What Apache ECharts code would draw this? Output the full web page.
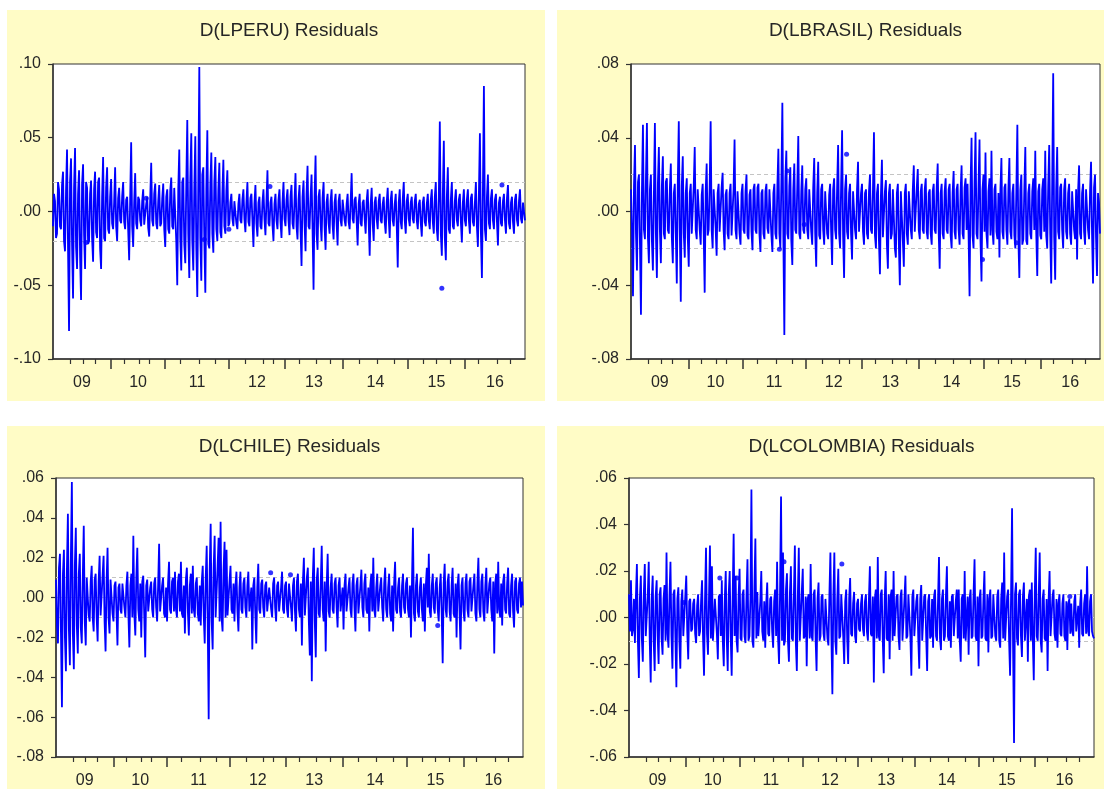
<!DOCTYPE html>
<html>
<head>
<meta charset="utf-8">
<title>Residuals</title>
<script src="https://cdn.jsdelivr.net/npm/echarts@6.0.0/dist/echarts.min.js"></script>
<style>
  html, body { margin: 0; padding: 0; background: #ffffff; }
  #chart { width: 1104px; height: 789px; }
</style>
</head>
<body>
<div id="chart"></div>
<script>
// Observation axis: 472 plotted observations, 2009 to 2016.
const yearLabels = ['09', '10', '11', '12', '13', '14', '15', '16'];
// Year boundaries and quarter boundaries, in observation numbers
const yearTicks = [57.9, 111.8, 175.6, 231.5, 289.4, 354.2, 411.1];
const quarterTicks = [
  17.0, 30.0, 41.9,
  70.8, 85.8, 95.8,
  126.7, 145.7, 161.6,
  191.6, 209.5, 219.5,
  245.5, 262.4, 276.4,
  305.3, 323.3, 340.3,
  369.2, 382.2, 396.2,
  424.1, 443.1, 456.0
];

// D(LPERU) residuals, one row per year
const peru = [
  -.01, .012, .007, -.018, -.015, .02, .015, -.01, -.012, .018, .027, -.02, -.027, .014, .042, -.025, -.081, .02, .036, -.022, -.059, .016, .043, -.024, -.039, .012, .028, -.03, -.06, .018, .032, -.016, -.039, .02, .016, -.022, -.02, .012, .021, -.018, -.034, .015, .027, -.014, -.018, .02, .023, -.025, -.039, .01, .037, -.018, -.02, .016, .03, -.012, -.015, .01,
  .022, -.008, -.012, .006, .03, -.01, -.02, .009, .016, -.006, -.008, .01, .02, -.007, -.012, .008, .01, -.012, -.033, .008, .047, -.01, -.024, .006, .026, -.008, -.012, .01, .008, -.006, -.01, .007, .015, -.009, -.008, .005, .01, -.011, -.017, .009, .033, -.006, -.01, .012, .019, -.008, -.012, .007, .018, -.01, -.008, .009, .019, -.012,
  -.024, .01, .015, -.012, -.015, .014, .023, -.01, -.012, .016, .015, -.02, -.05, .015, .042, -.018, -.04, .02, .023, -.022, -.035, .018, .062, -.015, -.045, .022, .053, -.02, -.04, .016, .051, -.025, -.058, .02, .098, -.018, -.047, .025, .03, -.02, -.055, .015, .055, -.022, -.025, .018, .04, -.015, -.028, .02, .037, -.012, -.02, .015, .033, -.014, -.018, .012, .035, -.01, -.015, .014, .028, -.01,
  -.008, .006, .012, -.005, -.01, .007, .008, -.008, -.012, .005, .012, -.006, -.008, .008, .015, -.005, -.014, .006, .02, -.007, -.01, .009, .012, -.006, -.024, .005, .018, -.008, -.017, .006, .01, -.01, -.012, .006, .015, -.005, -.016, .007, .028, -.008, -.01, .006, .01, -.009, -.02, .005, .012, -.006, -.012, .008, .015, -.007, -.018, .006, .02, -.005,
  -.01, .008, .015, -.006, -.016, .01, .018, -.008, -.012, .007, .026, -.01, -.019, .008, .018, -.012, -.037, .01, .021, -.008, -.027, .012, .031, -.01, -.012, .009, .025, -.012, -.053, .01, .038, -.015, -.026, .01, .015, -.008, -.02, .009, .02, -.01, -.026, .006, .012, -.008, -.015, .007, .015, -.009, -.019, .006, .012, -.008, -.023, .007, .012, -.006, -.01, .008,
  .008, -.006, -.01, .005, .012, -.007, -.012, .006, .026, -.005, -.008, .008, .01, -.006, -.023, .005, .012, -.008, -.01, .006, .008, -.005, -.015, .007, .015, -.006, -.03, .005, .016, -.008, -.02, .006, .01, -.005, -.012, .007, .012, -.006, -.008, .005, .01, -.007, -.015, .006, .016, -.005, -.018, .008, .014, -.006, -.01, .005, .012, -.009, -.038, .006, .015, -.007, -.012, .008, .02, -.006, -.015, .007, .012, -.005,
  -.01, .006, .01, -.005, -.008, .007, .012, -.006, -.012, .005, .008, -.008, -.017, .006, .01, -.007, -.01, .005, .012, -.006, -.012, .008, .015, -.007, -.015, .01, .02, -.012, -.02, .01, .061, -.015, -.03, .012, .048, -.018, -.033, .01, .03, -.012, -.015, .008, .02, -.01, -.012, .007, .015, -.006, -.01, .008, .012, -.007, -.021, .006, .015, -.006,
  -.01, .008, .015, -.006, -.015, .009, .012, -.007, -.01, .006, .02, -.01, -.024, .012, .053, -.015, -.045, .014, .085, -.012, -.02, .01, .025, -.008, -.012, .009, .015, -.006, -.012, .008, .012, -.007, -.023, .006, .01, -.008, -.01, .007, .012, -.006, -.015, .009, .018, -.008, -.012, .006, .01, -.007, -.015, .008, .012, -.006, -.01, .007, .015, -.005, -.008, .006, .005, -.006
];
// isolated observations (observation number, residual)
const peruSingles = [[33, -.021], [93, .009], [151, -.019], [175.5, -.012], [216.5, .017], [388, -.052], [448, .018]];

// D(LBRASIL) residuals
const brasil = [
  .012, -.01, -.046, .014, .036, -.012, -.032, .016, .02, -.018, -.056, .012, .047, -.01, -.015, .018, .048, -.014, -.028, .012, .02, -.016, -.032, .01, .048, -.012, -.036, .015, .035, -.01, -.028, .014, .03, -.012, -.015, .016, .018, -.01, -.012, .012, .026, -.014, -.028, .01, .015, -.012, -.039, .016, .049, -.01, -.049, .014, .03, -.012, -.025, .01, .018, -.014,
  -.03, .01, .015, -.012, -.012, .014, .035, -.01, -.015, .012, .012, -.01, -.018, .009, .015, -.012, -.044, .011, .026, -.013, -.01, .014, .049, -.01, -.02, .012, .012, -.009, -.024, .01, .015, -.011, -.012, .013, .021, -.01, -.021, .009, .012, -.012, -.015, .01, .015, -.013, -.012, .012, .039, -.01, -.015, .011, .012, -.012, -.018, .01,
  .015, -.01, -.012, .011, .02, -.013, -.015, .009, .012, -.011, -.021, .012, .015, -.01, -.012, .013, .015, -.012, -.022, .01, .012, -.012, -.015, .011, .015, -.009, -.012, .012, .012, -.013, -.022, .01, .015, -.012, -.015, .014, .034, -.012, -.02, .016, .059, -.014, -.067, .018, .033, -.012, -.015, .014, .024, -.016, -.029, .012, .026, -.01, -.012, .014, .041, -.012, -.015, .011, .025, -.01, -.012, .012,
  .018, -.01, -.015, .012, .012, -.011, -.018, .013, .029, -.012, -.03, .01, .027, -.013, -.015, .012, .015, -.01, -.018, .011, .012, -.012, -.015, .009, .015, -.011, -.029, .012, .018, -.01, -.015, .013, .036, -.012, -.02, .014, .044, -.013, -.036, .012, .02, -.011, -.015, .01, .015, -.012, -.026, .011, .012, -.01, -.015, .012, .027, -.011, -.012, .01,
  .015, -.011, -.018, .01, .012, -.012, -.015, .011, .02, -.01, -.012, .012, .043, -.013, -.02, .01, .015, -.016, -.034, .009, .028, -.014, -.015, .011, .017, -.018, -.031, .01, .015, -.015, -.012, .012, .012, -.02, -.025, .01, .015, -.018, -.04, .011, .012, -.016, -.03, .01, .015, -.012, -.018, .011, .012, -.01, -.015, .012, .025, -.011, -.012, .013, .023, -.01,
  -.015, .011, .015, -.01, -.012, .012, .018, -.011, -.015, .01, .012, -.012, -.018, .011, .015, -.01, -.012, .013, .026, -.011, -.031, .01, .015, -.012, -.015, .011, .018, -.01, -.012, .012, .015, -.013, -.02, .01, .022, -.011, -.015, .012, .015, -.01, -.018, .011, .025, -.012, -.015, .013, .018, -.01, .015, -.012, -.046, .014, .04, -.013, -.02, .016, .043, -.012, -.015, .014, .039, -.016, -.038, .012, .02, -.011,
  .032, -.012, -.02, .011, .018, -.013, .033, -.01, -.018, .012, .015, -.011, -.015, .01, -.025, .012, .029, -.011, -.015, .013, .015, -.01, -.018, .012, .029, -.011, -.015, .01, .015, -.013, -.02, .012, .047, -.014, -.036, .012, .02, -.018, -.015, .012, .035, -.016, -.018, .01, .015, -.012, -.015, .011, .018, -.01, .033, -.012, -.035, .011, .015, -.013,
  -.015, .012, .018, -.011, .033, -.013, -.02, .014, .036, -.012, -.039, .016, .075, -.014, -.037, .012, .035, -.011, -.015, .013, .015, -.01, -.02, .012, .018, -.011, -.015, .01, .015, -.012, -.018, .011, .012, -.01, -.015, .012, -.026, .011, .025, -.012, -.015, .01, .015, -.011, -.018, .012, .012, -.01, -.015, .011, .027, -.012, -.039, .013, .02, -.014, -.035, .01, .005, -.012
];
const brasilSingles = [[149, -.0205], [157, .022], [174, -.007], [216.5, .031], [353, -.026], [387, -.017]];

// D(LCHILE) residuals
const chile = [
  .009, -.014, -.023, .015, .022, -.018, -.055, .012, .024, -.02, -.037, .014, .042, -.016, -.034, .02, .058, -.018, -.036, .016, .035, -.014, -.028, .012, .022, -.015, -.023, .01, .036, -.012, -.024, .01, .011, -.009, -.012, .008, .016, -.01, -.017, .009, .012, -.01, -.022, .008, .021, -.009, -.01, .011, .021, -.012, -.027, .008, .025, -.01, -.018, .009, .01, -.008,
  -.012, .006, .008, -.007, -.024, .005, .007, -.006, -.008, .007, .008, -.005, -.01, .006, .013, -.008, -.025, .006, .012, -.01, .031, -.008, -.019, .01, .025, -.006, -.012, .007, -.02, .008, .011, -.009, -.03, .006, .009, -.007, -.008, .005, .008, -.006, -.01, .007, .01, -.005, -.012, .006, .027, -.007, -.008, .006, .01, -.008, -.01, .005,
  -.012, .007, .018, -.006, -.008, .008, .01, -.007, .013, -.006, -.01, .008, .012, -.007, .018, -.008, -.01, .006, -.018, .009, .015, -.007, -.019, .006, .012, -.008, .016, -.006, -.01, .007, .01, -.008, -.012, .006, -.014, .008, .016, -.009, -.023, .01, .026, -.012, -.061, .014, .037, -.012, -.026, .015, .031, -.01, -.01, .016, .03, -.012, .038, -.01, -.017, .014, .028, -.01, .024, -.009, -.01, .008,
  .016, -.006, -.008, .007, -.012, .006, .013, -.007, -.017, .005, .013, -.006, -.008, .007, .01, -.005, -.01, .006, .013, -.007, -.008, .005, -.026, .006, .01, -.008, -.023, .005, .017, -.006, -.008, .007, .009, -.005, -.01, .006, .008, -.007, -.006, .005, .006, -.006, -.01, .007, .01, -.005, -.012, .006, .008, -.007, -.008, .005, .013, -.006, -.008, .006,
  .008, -.006, -.01, .007, .006, -.005, -.012, .006, .01, -.007, -.017, .008, .012, -.006, -.01, .007, -.024, .008, .02, -.009, -.01, .01, .015, -.012, -.029, .008, -.042, .01, .025, -.012, -.03, .009, .015, -.008, -.01, .007, .026, -.006, -.012, .008, -.027, .006, .022, -.007, -.01, .005, .012, -.006, -.008, .007, .01, -.005, -.015, .006, .01, -.007, -.008, .005,
  -.016, .006, .012, -.007, -.008, .005, .01, -.006, -.01, .007, .012, -.005, -.017, .006, .01, -.008, -.008, .006, .014, -.005, -.01, .007, .012, -.006, -.008, .005, -.017, .006, .012, -.007, .02, -.006, -.01, .005, .012, -.007, -.008, .006, .01, -.005, -.012, .007, .015, -.006, -.01, .005, .012, -.008, -.012, .006, -.017, .007, .018, -.006, -.008, .005, .01, -.007, -.01, .006, .012, -.005, -.008, .007, .01, -.006,
  -.01, .006, -.02, .007, .035, -.008, -.012, .006, .012, -.007, -.01, .005, .01, -.006, -.012, .007, -.017, .006, .015, -.005, .022, -.007, -.01, .006, .012, -.005, -.008, .007, .01, -.006, -.012, .005, .012, -.008, -.033, .007, .017, -.006, -.01, .008, .012, -.007, -.012, .006, .015, -.008, -.01, .007, -.02, .006, .012, -.007, -.026, .006, .01, -.007,
  -.012, .007, .012, -.006, -.01, .008, .01, -.007, -.008, .006, .012, -.008, -.012, .007, .02, -.006, -.01, .008, .012, -.007, -.012, .006, .015, -.008, -.008, .007, .01, -.006, -.012, .008, -.028, .007, .012, -.008, .018, -.006, -.01, .007, -.014, .008, .012, -.006, -.008, .007, .015, -.008, -.01, .006, .012, -.007, -.015, .008, .01, -.006, -.008, .007, .01, -.005, .008, -.004
];
const chileSingles = [[216.5, .0125], [236.5, .0115], [385, -.014]];

// D(LCOLOMBIA) residuals
const colombia = [
  .01, -.006, .016, -.008, -.005, .008, -.011, .009, .023, -.01, -.026, .008, .018, -.009, -.019, .01, .023, -.008, -.008, .009, .024, -.01, -.028, .008, .018, -.01, -.023, .009, .016, -.008, -.02, .01, .013, -.009, -.016, .008, .014, -.01, .028, -.007, -.013, .009, .024, -.008, -.022, .01, .012, -.009, -.03, .008, .013, -.01, -.022, .007, .012, -.008, -.008, .009,
  .018, -.006, -.018, .007, .008, -.006, -.005, .006, .008, -.007, -.011, .005, .01, -.008, -.006, .007, .016, -.009, -.025, .008, .03, -.007, -.016, .008, .031, -.009, .022, -.01, -.01, .008, .008, -.007, -.018, .009, .01, -.008, .016, -.01, -.021, .008, .02, -.009, -.023, .01, .02, -.008, -.025, .009, .036, -.008, .018, -.01, -.015, .009,
  .021, -.009, -.01, .01, .012, -.008, -.011, .009, .025, -.01, -.008, .008, .055, -.01, -.013, .012, .034, -.009, .011, -.008, -.008, .007, .02, -.006, -.01, .007, -.013, .006, .015, -.007, -.008, .008, .009, -.006, -.013, .007, .012, -.008, .024, -.009, -.02, .011, .052, -.01, .028, -.012, -.01, .012, .019, -.01, -.019, .011, .022, -.009, -.01, .01, .031, -.011, -.023, .009, .03, -.01, -.01, .011,
  .021, -.009, -.008, .009, -.021, .008, .01, -.009, .023, -.008, -.01, .01, .012, -.009, -.023, .008, .015, -.01, -.008, .009, .01, -.007, -.01, .008, .008, -.009, -.012, .01, .028, -.008, -.033, .009, .028, -.01, -.016, .008, .021, -.009, -.008, .01, .01, -.008, -.02, .007, .012, -.009, -.02, .008, .017, -.007, -.008, .006, .011, -.008, -.011, .006,
  .008, -.005, -.006, .006, .01, -.005, -.008, .007, .01, -.006, -.01, .008, .022, -.007, -.008, .009, -.028, .008, .012, -.009, .026, -.008, -.01, .01, .012, -.009, -.024, .008, .02, -.009, -.01, .01, -.018, .009, .012, -.01, .02, -.008, -.008, .009, .01, -.008, -.014, .009, .012, -.01, -.01, .008, .018, -.009, -.008, .01, .01, -.008, -.025, .009, .012, -.008,
  -.008, .007, .01, -.009, -.022, .008, .014, -.01, -.01, .009, .01, -.008, -.023, .007, .01, -.009, -.008, .008, -.013, .009, .012, -.008, -.01, .007, .026, -.009, -.014, .008, .012, -.01, -.008, .009, .022, -.008, -.01, .007, -.013, .009, .01, -.008, -.008, .007, .012, -.009, .012, -.01, -.019, .008, .01, -.009, .02, -.01, -.01, .009, -.016, .008, .012, -.009, -.008, .01, .025, -.008, -.01, .009, -.021, .008,
  .012, -.009, -.008, .008, .02, -.009, -.01, .01, -.015, .008, .012, -.009, -.008, .01, .01, -.008, -.01, .009, .012, -.01, -.013, .008, .015, -.009, .028, -.01, -.01, .009, .012, -.01, -.025, .01, .047, -.012, -.054, .01, .015, -.009, -.012, .01, .012, -.008, -.017, .009, .015, -.01, -.01, .008, -.019, .009, .012, -.01, .015, -.009, -.027, .01,
  .03, -.008, -.01, .009, .028, -.01, -.015, .008, .012, -.009, -.01, .008, -.023, .007, .02, -.008, -.008, .009, .012, -.007, -.01, .008, -.013, .006, .01, -.007, -.008, .006, .01, -.008, -.01, .007, -.014, .006, .008, -.007, .006, -.006, -.008, .007, .01, -.006, -.006, .005, -.013, .006, .012, -.007, -.008, .006, .01, -.007, .022, -.006, -.008, .007, .01, -.006, -.008, -.009
];
const colombiaSingles = [[55.7, .0064], [92, .017], [109.4, .017], [157, .024], [215.6, .023], [446.5, .009]];

const FONT = '"Liberation Sans", Arial, sans-serif';
const INK = '#262626';
const LINE_BLUE = '#0000ff';
const PANEL_BG = '#fffcc6';
const lastObs = peru.length - 1;

// label positions: the middle of each year span
const yearEdges = [0].concat(yearTicks, [lastObs]);
const yearMids = yearLabels.map((_, i) => (yearEdges[i] + yearEdges[i + 1]) / 2);
function yearLabelFor(v) {
  let best = 0;
  yearMids.forEach((m, i) => { if (Math.abs(m - v) < Math.abs(yearMids[best] - v)) best = i; });
  return yearLabels[best];
}
function residualLabel(v) {
  const s = Math.abs(v).toFixed(2).replace(/^0/, '');
  return (v < -1e-9 ? '-' : '') + s;
}

const panels = [
  { title: 'D(LPERU) Residuals', values: peru, singles: peruSingles, sd: 0.0155, min: -0.10, max: 0.10, step: 0.05,
    box: { left: 53, top: 64, width: 472, height: 295 }, bg: [7, 10, 538, 391], titleY: 21 },
  { title: 'D(LBRASIL) Residuals', values: brasil, singles: brasilSingles, sd: 0.016, min: -0.08, max: 0.08, step: 0.04,
    box: { left: 631, top: 64, width: 469, height: 295 }, bg: [557, 10, 547, 391], titleY: 21 },
  { title: 'D(LCHILE) Residuals', values: chile, singles: chileSingles, sd: 0.011, min: -0.08, max: 0.06, step: 0.02,
    box: { left: 56, top: 478, width: 467, height: 279 }, bg: [7, 426, 538, 363], titleY: 437 },
  { title: 'D(LCOLOMBIA) Residuals', values: colombia, singles: colombiaSingles, sd: 0.011, min: -0.06, max: 0.06, step: 0.02,
    box: { left: 629, top: 478, width: 465, height: 279 }, bg: [557, 426, 547, 363], titleY: 437 }
];

const option = {
  animation: false,
  backgroundColor: '#ffffff',
  textStyle: { fontFamily: FONT },
  title: [], grid: [], xAxis: [], yAxis: [], series: [], graphic: []
};

panels.forEach((p, k) => {
  option.graphic.push({
    type: 'rect', z: -100, silent: true,
    shape: { x: p.bg[0], y: p.bg[1], width: p.bg[2], height: p.bg[3] },
    style: { fill: PANEL_BG }
  });
  option.title.push({
    text: p.title, left: p.box.left + p.box.width / 2, top: p.titleY, textAlign: 'center', padding: 0,
    textStyle: { fontSize: 19, fontWeight: 'normal', color: INK, fontFamily: FONT }
  });
  option.grid.push(Object.assign({
    show: true, backgroundColor: '#ffffff', borderColor: '#333333', borderWidth: 1, containLabel: false
  }, p.box));

  // main x axis: year ticks and year labels
  option.xAxis.push({
    type: 'value', gridIndex: k, min: 0, max: lastObs, position: 'bottom',
    axisLine: { show: true, onZero: false, lineStyle: { color: '#333333', width: 1.5 } },
    axisTick: { show: true, customValues: yearTicks, length: 10, lineStyle: { color: '#333333', width: 1.5 } },
    axisLabel: { show: true, customValues: yearMids, formatter: yearLabelFor, margin: 16,
      fontSize: 16, color: INK, fontFamily: FONT },
    splitLine: { show: false }
  });
  // second x axis: quarter ticks
  option.xAxis.push({
    type: 'value', gridIndex: k, min: 0, max: lastObs, position: 'bottom',
    axisLine: { show: false, onZero: false },
    axisTick: { show: true, customValues: quarterTicks, length: 5, lineStyle: { color: '#333333', width: 1.2 } },
    axisLabel: { show: false },
    splitLine: { show: false }
  });
  option.yAxis.push({
    type: 'value', gridIndex: k, min: p.min, max: p.max, interval: p.step,
    axisLine: { show: true, onZero: false, lineStyle: { color: '#333333', width: 1.5 } },
    axisTick: { show: true, length: 5, lineStyle: { color: '#333333', width: 1.2 } },
    axisLabel: { formatter: residualLabel, fontSize: 16, color: INK, fontFamily: FONT, margin: 12 },
    splitLine: { show: false }
  });

  option.series.push({
    type: 'line', xAxisIndex: 2 * k, yAxisIndex: k, z: 2,
    data: p.values.map((v, i) => [i, v]),
    showSymbol: false, symbol: 'none',
    lineStyle: { color: LINE_BLUE, width: 1.8, join: 'miter', miterLimit: 2 },
    markLine: {
      silent: true, symbol: 'none', z: 1, animation: false,
      label: { show: false },
      emphasis: { disabled: true },
      data: [
        { yAxis: 0, lineStyle: { color: '#cfcfcf', type: 'solid', width: 1 } },
        { yAxis: p.sd, lineStyle: { color: '#c4c4c4', type: [4, 3], width: 1 } },
        { yAxis: -p.sd, lineStyle: { color: '#c4c4c4', type: [4, 3], width: 1 } }
      ]
    }
  });
  option.series.push({
    type: 'scatter', xAxisIndex: 2 * k, yAxisIndex: k, z: 3,
    data: p.singles, symbol: 'circle', symbolSize: 5,
    itemStyle: { color: LINE_BLUE }
  });
});

const chart = echarts.init(document.getElementById('chart'), null, { renderer: 'canvas' });
chart.setOption(option);
</script>
</body>
</html>
